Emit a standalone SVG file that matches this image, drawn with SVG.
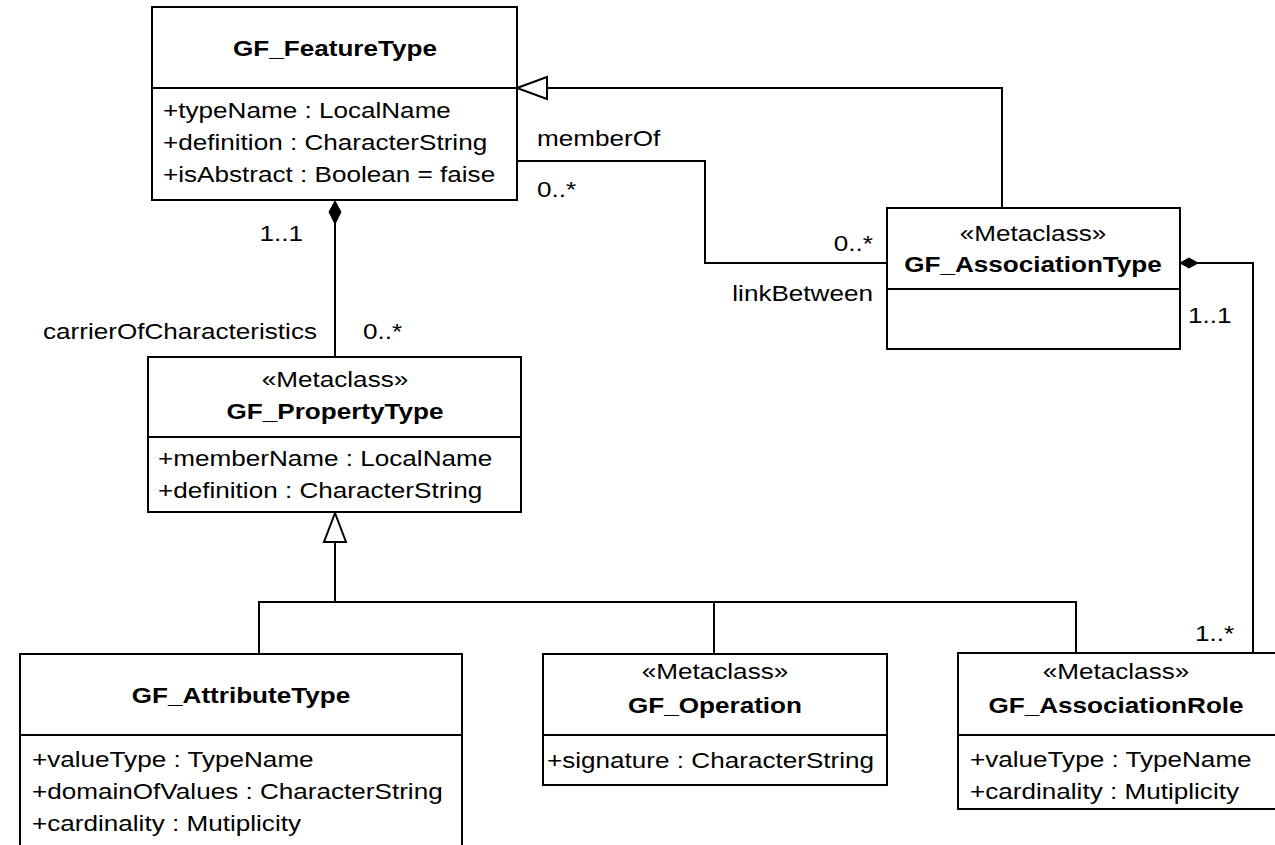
<svg xmlns="http://www.w3.org/2000/svg" width="1275" height="845" viewBox="0 0 1275 845">
<style>
  text { font-family: "Liberation Sans", Arial, sans-serif; font-size: 22.5px; fill: #000; }
  .t { font-weight: bold; text-anchor: middle; }
  .s { text-anchor: middle; }
  .e { text-anchor: end; }
  .box { fill: #fff; stroke: #000; stroke-width: 2; }
  .ln { fill: none; stroke: #000; stroke-width: 2; }
  .dia { fill: #000; stroke: #000; stroke-width: 1; }
  .tri { fill: #fff; stroke: #000; stroke-width: 2; }
</style>
<rect width="1275" height="845" fill="#fff"/>

<g id="connectors">
  <!-- composition FeatureType - PropertyType -->
  <line class="ln" x1="335" y1="222" x2="335" y2="357"/>
  <polygon class="dia" points="335,201 341,212 335,224 329,212"/>
  <!-- generalization hierarchy under PropertyType -->
  <line class="ln" x1="335" y1="542" x2="335" y2="602"/>
  <line class="ln" x1="258" y1="602" x2="1077" y2="602"/>
  <line class="ln" x1="259" y1="602" x2="259" y2="654"/>
  <line class="ln" x1="714" y1="602" x2="714" y2="654"/>
  <line class="ln" x1="1076" y1="602" x2="1076" y2="653"/>
  <polygon class="tri" points="335,513 346,542 324,542"/>
  <!-- generalization AssociationType -> FeatureType -->
  <polyline class="ln" points="1002,208 1002,88 547,88"/>
  <polygon class="tri" points="517,88 547,77 547,99"/>
  <!-- memberOf / linkBetween association -->
  <polyline class="ln" points="517,161 705,161 705,263 887,263"/>
  <!-- composition AssociationType - AssociationRole -->
  <polyline class="ln" points="1197,263 1253,263 1253,653"/>
  <polygon class="dia" points="1180,263 1189,258 1198,263 1189,268"/>
  <!-- labels -->
  <text transform="translate(303,241) scale(1.16,1)" class="e">1..1</text>
  <text transform="translate(317,339) scale(1.16,1)" class="e">carrierOfCharacteristics</text>
  <text transform="translate(363,339) scale(1.16,1)">0..*</text>
  <text transform="translate(537,146) scale(1.16,1)">memberOf</text>
  <text transform="translate(537,197) scale(1.16,1)">0..*</text>
  <text transform="translate(873,251) scale(1.16,1)" class="e">0..*</text>
  <text transform="translate(873,301) scale(1.16,1)" class="e">linkBetween</text>
  <text transform="translate(1188,323) scale(1.16,1)">1..1</text>
  <text transform="translate(1195,641) scale(1.16,1)">1..*</text>
</g>

<g id="GF_FeatureType">
  <rect class="box" x="152" y="7" width="365" height="193"/>
  <line class="ln" x1="152" y1="88" x2="517" y2="88"/>
  <text class="t" transform="translate(335,56) scale(1.16,1)">GF_FeatureType</text>
  <text transform="translate(163,118) scale(1.16,1)">+typeName : LocalName</text>
  <text transform="translate(163,150) scale(1.16,1)">+definition : CharacterString</text>
  <text transform="translate(163,182) scale(1.16,1)">+isAbstract : Boolean = faise</text>
</g>

<g id="GF_PropertyType">
  <rect class="box" x="148" y="357" width="373" height="155"/>
  <line class="ln" x1="148" y1="437" x2="521" y2="437"/>
  <text class="s" transform="translate(335,387) scale(1.16,1)">«Metaclass»</text>
  <text class="t" transform="translate(335,419) scale(1.16,1)">GF_PropertyType</text>
  <text transform="translate(158,466) scale(1.16,1)">+memberName : LocalName</text>
  <text transform="translate(158,498) scale(1.16,1)">+definition : CharacterString</text>
</g>

<g id="GF_AssociationType">
  <rect class="box" x="887" y="208" width="293" height="141"/>
  <line class="ln" x1="887" y1="289" x2="1180" y2="289"/>
  <text class="s" transform="translate(1033,241) scale(1.16,1)">«Metaclass»</text>
  <text class="t" transform="translate(1033,272) scale(1.16,1)">GF_AssociationType</text>
</g>

<g id="GF_AttributeType">
  <rect class="box" x="20" y="654" width="442" height="200"/>
  <line class="ln" x1="20" y1="735" x2="462" y2="735"/>
  <text class="t" transform="translate(241,703) scale(1.16,1)">GF_AttributeType</text>
  <text transform="translate(32,767) scale(1.16,1)">+valueType : TypeName</text>
  <text transform="translate(32,799) scale(1.16,1)">+domainOfValues : CharacterString</text>
  <text transform="translate(32,831) scale(1.16,1)">+cardinality : Mutiplicity</text>
</g>

<g id="GF_Operation">
  <rect class="box" x="543" y="654" width="344" height="131"/>
  <line class="ln" x1="543" y1="735" x2="887" y2="735"/>
  <text class="s" transform="translate(715,679) scale(1.16,1)">«Metaclass»</text>
  <text class="t" transform="translate(715,713) scale(1.16,1)">GF_Operation</text>
  <text transform="translate(547,768) scale(1.16,1)">+signature : CharacterString</text>
</g>

<g id="GF_AssociationRole">
  <rect class="box" x="958" y="653" width="322" height="156"/>
  <line class="ln" x1="958" y1="735" x2="1280" y2="735"/>
  <text class="s" transform="translate(1116,679) scale(1.16,1)">«Metaclass»</text>
  <text class="t" transform="translate(1116,713) scale(1.16,1)">GF_AssociationRole</text>
  <text transform="translate(970,767) scale(1.16,1)">+valueType : TypeName</text>
  <text transform="translate(970,799) scale(1.16,1)">+cardinality : Mutiplicity</text>
</g>
</svg>
